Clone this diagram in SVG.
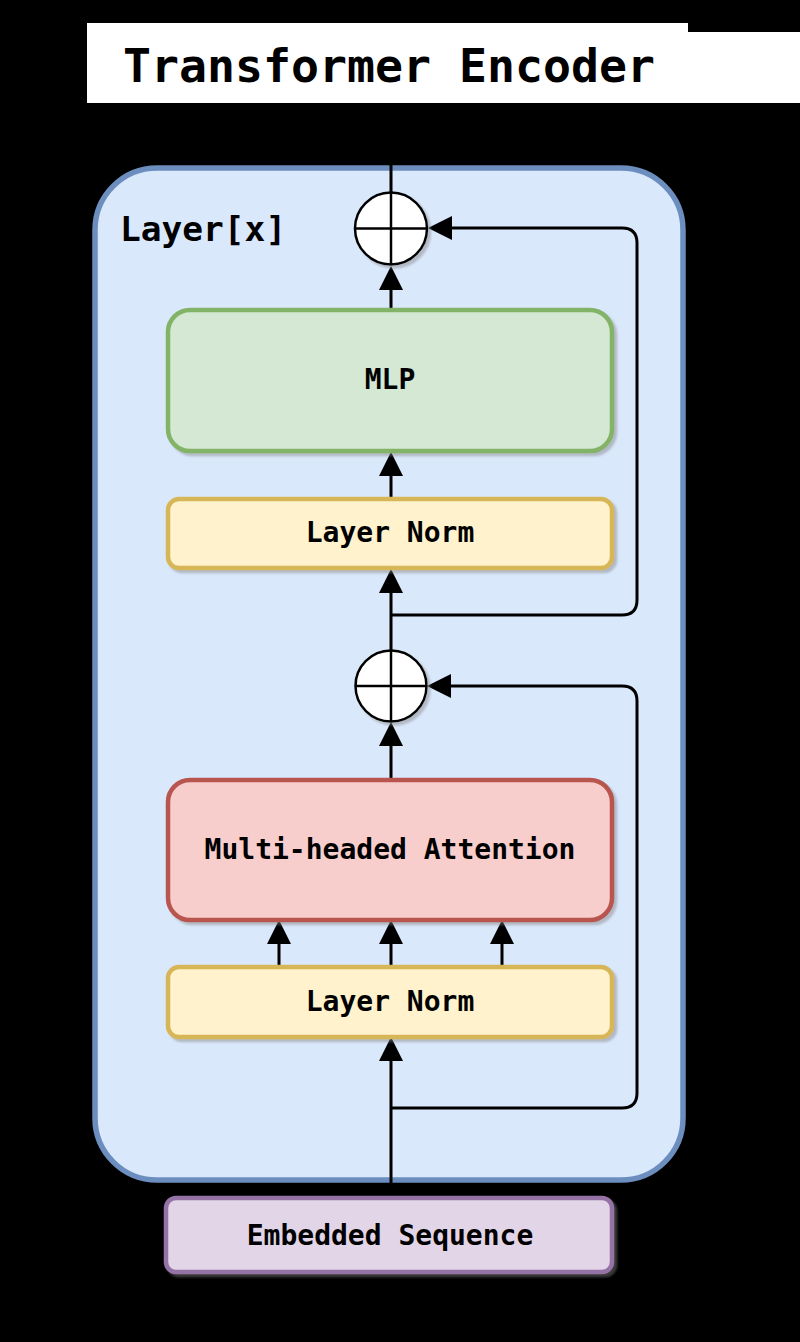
<svg xmlns="http://www.w3.org/2000/svg" width="800" height="1342" viewBox="0 0 800 1342">
  <defs>
    <filter id="sh" x="-10%" y="-10%" width="120%" height="130%">
      <feDropShadow dx="3" dy="3" stdDeviation="1.2" flood-color="#808080" flood-opacity="0.45"/>
    </filter>
    <marker id="arr" viewBox="0 0 24 24" markerWidth="24" markerHeight="24" refX="1" refY="12" orient="auto" markerUnits="userSpaceOnUse">
      <path d="M0,0 L24,12 L0,24 z" fill="#000"/>
    </marker>
  </defs>
  <style>
    .lbl { font-family: "DejaVu Sans Mono", "Liberation Mono", monospace; font-weight: bold; fill: #000; }
    .node { font-size: 28px; text-anchor: middle; }
    .box { stroke-width: 4.5; filter: url(#sh); }
    .edge { fill: none; stroke: #000; stroke-width: 3; }
    .plus { fill: #fff; stroke: #000; stroke-width: 2.5; filter: url(#sh); }
    .cross { stroke: #000; stroke-width: 2.5; }
  </style>
  <rect x="0" y="0" width="800" height="1342" fill="#000"/>

  <g id="title">
    <path d="M87,23 H688 V32 H800 V103 H87 Z" fill="#fff"/>
    <text class="lbl" x="123" y="82" font-size="46.5">Transformer Encoder</text>
  </g>

  <g id="layer">
    <rect x="95" y="168" width="588" height="1012" rx="62" fill="#dae8fc" stroke="#6c8ebf" stroke-width="5.5"/>
    <text class="lbl" x="120" y="241" font-size="34.5">Layer[x]</text>
  </g>

  <g id="connectors">
    <line class="edge" x1="391" y1="163" x2="391" y2="192" stroke-linecap="round"/>
    <line class="edge" x1="391" y1="309" x2="391" y2="289" marker-end="url(#arr)"/>
    <line class="edge" x1="391" y1="499" x2="391" y2="475" marker-end="url(#arr)"/>
    <line class="edge" x1="391" y1="651" x2="391" y2="592" marker-end="url(#arr)"/>
    <path class="edge" d="M391,615 H622 Q637,615 637,600 V243 Q637,228 622,228 H451" marker-end="url(#arr)"/>
    <line class="edge" x1="391" y1="780" x2="391" y2="745" marker-end="url(#arr)"/>
    <path class="edge" d="M391,1108 H622 Q637,1108 637,1093 V701 Q637,686 622,686 H450" marker-end="url(#arr)"/>
    <line class="edge" x1="279" y1="967" x2="279" y2="943" marker-end="url(#arr)"/>
    <line class="edge" x1="391" y1="967" x2="391" y2="943" marker-end="url(#arr)"/>
    <line class="edge" x1="502" y1="967" x2="502" y2="943" marker-end="url(#arr)"/>
    <line class="edge" x1="391" y1="1194" x2="391" y2="1060" stroke-linecap="round" marker-end="url(#arr)"/>
  </g>

  <g id="add2">
    <circle class="plus" cx="391" cy="228.5" r="36"/>
    <line class="cross" x1="391" y1="192.5" x2="391" y2="264.5"/>
    <line class="cross" x1="355" y1="228.5" x2="427" y2="228.5"/>
  </g>

  <g id="mlp">
    <rect class="box" x="168" y="310" width="444" height="141" rx="22" fill="#d5e8d4" stroke="#82b366"/>
    <text class="lbl node" x="390" y="389">MLP</text>
  </g>

  <g id="norm2">
    <rect class="box" x="168" y="499" width="444" height="69" rx="11" fill="#fff2cc" stroke="#d6b656"/>
    <text class="lbl node" x="390" y="542">Layer Norm</text>
  </g>

  <g id="add1">
    <circle class="plus" cx="391" cy="686" r="35.5"/>
    <line class="cross" x1="391" y1="650.5" x2="391" y2="721.5"/>
    <line class="cross" x1="355.5" y1="686" x2="426.5" y2="686"/>
  </g>

  <g id="attention">
    <rect class="box" x="168" y="780" width="444" height="140" rx="22" fill="#f8cecc" stroke="#b85450"/>
    <text class="lbl node" x="390" y="859">Multi-headed Attention</text>
  </g>

  <g id="norm1">
    <rect class="box" x="168" y="967" width="444" height="70" rx="11" fill="#fff2cc" stroke="#d6b656"/>
    <text class="lbl node" x="390" y="1011">Layer Norm</text>
  </g>

  <g id="embedded">
    <rect class="box" x="166" y="1198" width="446" height="74" rx="10" fill="#e1d5e7" stroke="#9673a6" stroke-width="5"/>
    <text class="lbl node" x="390" y="1245">Embedded Sequence</text>
  </g>
</svg>
